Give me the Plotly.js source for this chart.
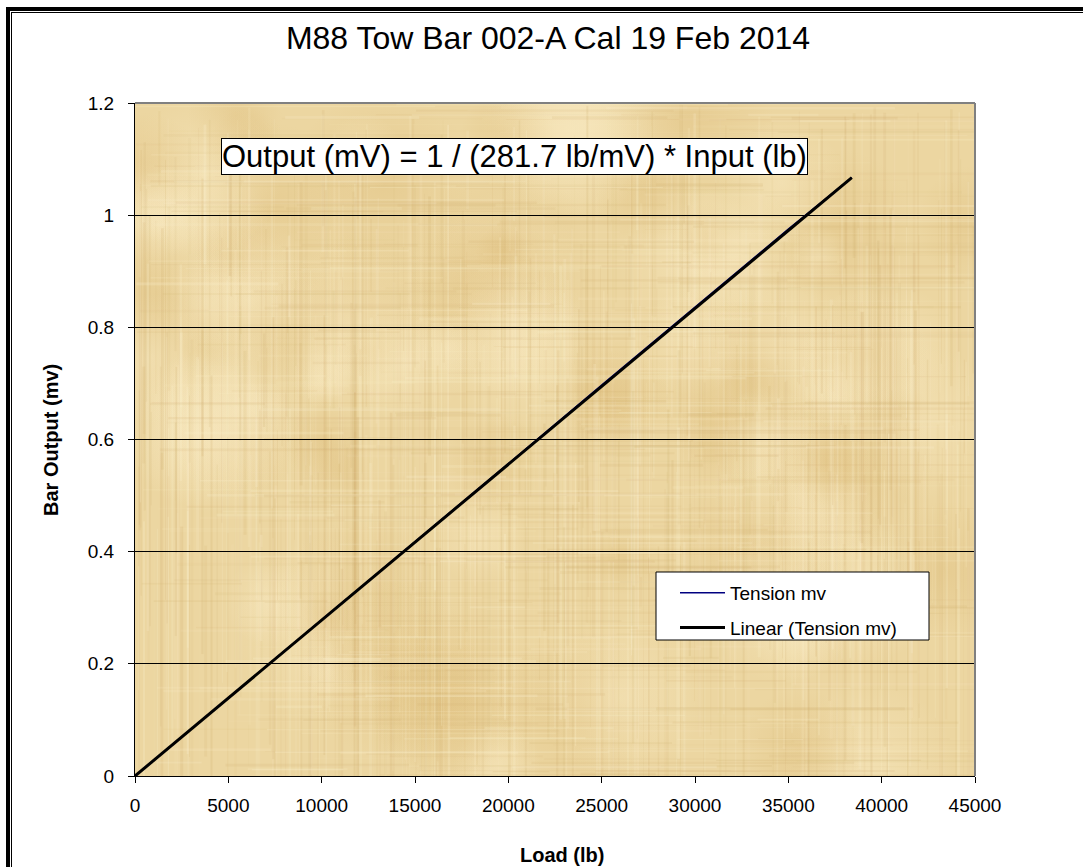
<!DOCTYPE html>
<html><head><meta charset="utf-8">
<script src="https://cdn.plot.ly/plotly-3.0.1.min.js"></script>
<style>
html,body{margin:0;padding:0;background:#fff;overflow:hidden;}
#wrap{position:relative;width:1083px;height:867px;overflow:hidden;}
#chart{position:absolute;left:0;top:0;width:1083px;height:867px;}
.f1{position:absolute;left:6px;top:7px;width:1200px;height:1000px;border-left:4px solid #000;border-top:4px solid #000;pointer-events:none;}
.f2{position:absolute;left:11px;top:12px;width:1200px;height:1000px;border-left:1px solid #000;border-top:1px solid #000;pointer-events:none;}
</style></head>
<body><div id="wrap"><div id="chart"></div><div class="f1"></div><div class="f2"></div></div>
<script>
// ---- data ----
const chartTitle = 'M88 Tow Bar 002-A Cal 19 Feb 2014';
const xTitle = 'Load (lb)';
const yTitle = 'Bar Output (mv)';
const formulaText = 'Output (mV) = 1 / (281.7 lb/mV) * Input (lb)';
const seriesName = 'Tension mv';
const trendName = 'Linear (Tension mv)';
const loadLb = [0, 5000, 10000, 15000, 20000, 25000, 30000, 35000, 38400];
const tensionMv = [0, 0.139, 0.279, 0.418, 0.557, 0.697, 0.836, 0.975, 1.067];
const trendLoad = [0, 38400];
const trendMv = [0, 1.067];

// ---- papyrus-like background texture (decoration only) ----
function makeTexture(w, h) {
  const c = document.createElement('canvas'); c.width = w; c.height = h;
  const g = c.getContext('2d');
  let s = 987654;
  const rnd = () => { s = (s * 1103515245 + 12345) & 0x7fffffff; return s / 0x7fffffff; };
  g.fillStyle = '#ecd6a1'; g.fillRect(0, 0, w, h);
  for (let i = 0; i < 90; i++) {
    const x = rnd() * w, y = rnd() * h, r = 25 + rnd() * 70;
    const grd = g.createRadialGradient(x, y, 0, x, y, r);
    const dark = rnd() < 0.45;
    const rgb = dark ? '220,186,118' : '250,236,198';
    grd.addColorStop(0, `rgba(${rgb},${dark ? 0.35 : 0.45})`);
    grd.addColorStop(1, `rgba(${rgb},0)`);
    g.fillStyle = grd; g.fillRect(x - r, y - r, 2 * r, 2 * r);
  }
  // vertical strips (papyrus fibres)
  for (let i = 0; i < 700; i++) {
    const x = rnd() * w, wd = 0.5 + rnd() * 2.5, y0 = rnd() * h * 0.7, len = h * (0.1 + rnd() * 0.6);
    const dark = rnd() < 0.5;
    g.fillStyle = dark ? `rgba(205,170,105,${0.05 + rnd() * 0.15})` : `rgba(252,240,205,${0.06 + rnd() * 0.22})`;
    g.fillRect(x, y0, wd, len);
  }
  // horizontal strips
  for (let i = 0; i < 550; i++) {
    const y = rnd() * h, ht = 0.5 + rnd() * 2.5, x0 = rnd() * w * 0.8, len = w * (0.05 + rnd() * 0.4);
    const dark = rnd() < 0.5;
    g.fillStyle = dark ? `rgba(205,170,105,${0.04 + rnd() * 0.12})` : `rgba(252,240,205,${0.06 + rnd() * 0.2})`;
    g.fillRect(x0, y, len, ht);
  }
  return c.toDataURL('image/png');
}

const L = 135, R = 975, T = 103, B = 776;
const PW = R - L, PH = B - T;
const px = v => (v - L) / PW;
const py = v => (B - v) / PH;
const FONT = 'Liberation Sans, Arial, sans-serif';

const traces = [
  { type: 'scatter', mode: 'lines', name: seriesName, x: loadLb, y: tensionMv,
    line: { color: '#000080', width: 1.5 }, legendgroup: 'a' },
  { type: 'scatter', mode: 'lines', name: trendName, x: trendLoad, y: trendMv,
    line: { color: '#000000', width: 3 }, legendgroup: 'b' }
];

const layout = {
  width: 1083, height: 867,
  margin: { l: L, r: 1083 - R, t: T, b: 867 - B, pad: 0 },
  paper_bgcolor: '#ffffff', plot_bgcolor: 'rgba(0,0,0,0)',
  font: { family: FONT, color: '#000' },
  title: { text: chartTitle, font: { size: 32, family: FONT, color: '#000' },
    xref: 'container', x: 548 / 1083, xanchor: 'center',
    yref: 'container', y: 1 - 38 / 867, yanchor: 'middle' },
  xaxis: { range: [0, 45000], tick0: 0, dtick: 5000, tickformat: 'd',
    showgrid: false, zeroline: false, showline: true, linecolor: '#000', linewidth: 1,
    ticks: 'outside', ticklen: 6, tickcolor: '#000', tickfont: { size: 19 },
    ticklabelstandoff: 6, fixedrange: true },
  yaxis: { range: [0, 1.2], tick0: 0, dtick: 0.2,
    showgrid: true, gridcolor: '#000', gridwidth: 1, zeroline: false,
    showline: true, linecolor: '#000', linewidth: 1,
    ticks: 'outside', ticklen: 6, tickcolor: '#000', tickfont: { size: 19 },
    ticklabelstandoff: 10, fixedrange: true },
  showlegend: true,
  legend: { x: px(675), xanchor: 'left', y: py(574), yanchor: 'top',
    bgcolor: 'rgba(0,0,0,0)', borderwidth: 0,
    font: { size: 19, family: FONT }, traceorder: 'grouped', tracegroupgap: 7,
    itemwidth: 45 },
  images: [{ source: makeTexture(PW, PH), xref: 'paper', yref: 'paper',
    x: 0, y: 1, sizex: 1, sizey: 1, sizing: 'stretch', layer: 'below' }],
  shapes: [
    { type: 'line', xref: 'paper', yref: 'paper', x0: 0, x1: 1, y0: 1, y1: 1, line: { color: '#808080', width: 2 } },
    { type: 'line', xref: 'paper', yref: 'paper', x0: 1, x1: 1, y0: 0, y1: 1, line: { color: '#808080', width: 2 } },
    { type: 'rect', xref: 'paper', yref: 'paper', x0: px(656), x1: px(929), y0: py(640), y1: py(572),
      fillcolor: '#ffffff', line: { color: '#000', width: 1 }, layer: 'above' }
  ],
  annotations: [
    { text: formulaText, xref: 'paper', yref: 'paper', x: px(514.5), y: py(156.5),
      xanchor: 'center', yanchor: 'middle', showarrow: false,
      font: { size: 31, family: FONT, color: '#000' },
      bgcolor: '#ffffff', bordercolor: '#000', borderwidth: 1, borderpad: 0 },
    { text: '<b>' + xTitle + '</b>', xref: 'paper', yref: 'paper', x: px(562), y: py(855),
      xanchor: 'center', yanchor: 'middle', showarrow: false, font: { size: 20, family: FONT } },
    { text: '<b>' + yTitle + '</b>', xref: 'paper', yref: 'paper', x: px(51), y: py(440),
      xanchor: 'center', yanchor: 'middle', showarrow: false, textangle: -90, font: { size: 20, family: FONT } }
  ]
};

Plotly.newPlot('chart', traces, layout, { displayModeBar: false, staticPlot: true });
</script>
</body></html>
